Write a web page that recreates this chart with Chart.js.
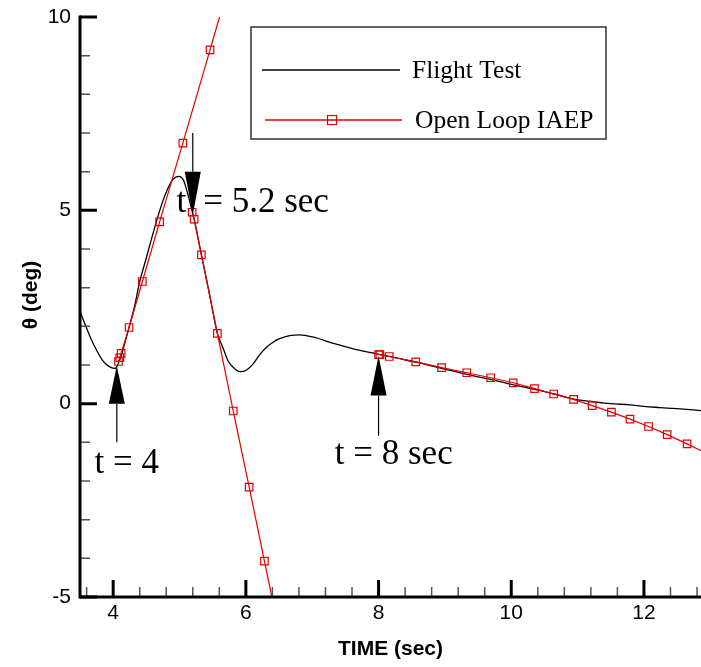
<!DOCTYPE html>
<html>
<head>
<meta charset="utf-8">
<title>Pitch angle response</title>
<script src="https://cdn.jsdelivr.net/npm/chart.js@4.4.1/dist/chart.umd.min.js"></script>
<style>
  html, body { margin: 0; padding: 0; background: #fff; }
  #chart { display: block; }
</style>
</head>
<body>
<canvas id="chart" width="701" height="667"></canvas>
<script>
// flight test record: time (sec) and pitch angle (deg)
const flightTime = [3.50, 3.60, 3.67, 3.75, 3.84, 3.93, 4.03, 4.08, 4.14, 4.24,
                    4.32, 4.40, 4.48, 4.56, 4.65, 4.74, 4.82, 4.90, 4.99, 5.06,
                    5.12, 5.18, 5.22, 5.33, 5.45, 5.57, 5.61, 5.66, 5.73, 5.81,
                    5.87, 5.94, 6.01, 6.11, 6.21, 6.31, 6.41, 6.51, 6.66, 6.81,
                    7.02, 7.32, 7.62, 7.97, 8.30, 8.60, 8.95, 9.30, 9.70, 10.00,
                    10.35, 10.65, 10.94, 11.24, 11.50, 11.79, 12.00, 12.24, 12.50, 12.86];
const flightTheta = [2.39, 1.95, 1.66, 1.38, 1.12, 0.97, 0.91, 1.05, 1.35, 1.98,
                     2.50, 3.16, 3.65, 4.15, 4.70, 5.20, 5.55, 5.80, 5.88, 5.78,
                     5.45, 5.05, 4.78, 3.85, 2.85, 1.82, 1.63, 1.42, 1.11, 0.94,
                     0.85, 0.83, 0.87, 1.03, 1.27, 1.46, 1.59, 1.68, 1.76, 1.78,
                     1.72, 1.56, 1.42, 1.29, 1.17, 1.06, 0.91, 0.77, 0.62, 0.50,
                     0.37, 0.25, 0.12, 0.05, 0.00, -0.03, -0.07, -0.10, -0.13, -0.18];

// open loop IAEP runs started at t = 4, 5.2 and 8 sec (null splits the runs)
const iaepTime = [4.08, 4.10, 4.12, 4.24, 4.44, 4.70, 5.05, 5.46, 5.67,
                  null,
                  5.19, 5.22, 5.33, 5.57, 5.81, 6.05, 6.28, 6.44,
                  null,
                  8.00, 8.02, 8.16, 8.56, 8.95, 9.33, 9.69, 10.03, 10.35, 10.64,
                  10.94, 11.22, 11.51, 11.79, 12.07, 12.35, 12.65, 12.95];
const iaepTheta = [1.09, 1.19, 1.30, 1.97, 3.16, 4.70, 6.74, 9.15, 10.40,
                   null,
                   4.95, 4.77, 3.85, 1.82, -0.19, -2.16, -4.07, -5.40,
                   null,
                   1.27, 1.27, 1.22, 1.08, 0.93, 0.80, 0.67, 0.54, 0.39, 0.25,
                   0.11, -0.05, -0.22, -0.40, -0.59, -0.80, -1.04, -1.29];

const xMajorTicks = [4, 6, 8, 10, 12];
const xMinorTicks = [3.6, 4.4, 4.8, 5.2, 5.6, 6.4, 6.8, 7.2, 7.6, 8.4, 8.8, 9.2, 9.6,
                     10.4, 10.8, 11.2, 11.6, 12.4, 12.8];
const yMajorTicks = [-5, 0, 5, 10];
const yMinorTicks = [-4, -3, -2, -1, 1, 2, 3, 4, 6, 7, 8, 9];

const sans = '"Liberation Sans", Arial, sans-serif';
const serif = '"Liberation Serif", "Times New Roman", serif';
const red = '#e00000';

// arrows marking the restart times of the IAEP runs (data units)
const markers = [
  { t: 4.055, tip: 0.98, base: 0.0, tail: -1.0 },
  { t: 5.2, tip: 4.88, base: 6.0, tail: 7.0 },
  { t: 8.0, tip: 1.24, base: 0.21, tail: -0.83 }
];
const notes = [
  { text: 't = 4', t: 3.72, v: -1.79 },
  { text: 't', t: 4.955, v: 4.96 },
  { text: '= 5.2 sec', t: 5.357, v: 4.96 },
  { text: 't = 8 sec', t: 7.34, v: -1.56 }
];

function toPoints(xs, ys) {
  return xs.map((x, i) => ({ x: x, y: ys[i] }));
}

const decor = {
  id: 'decor',
  afterDatasetsDraw(chart) {
    const { ctx, chartArea: a, scales: { x, y } } = chart;
    ctx.save();

    // inward ticks
    ctx.strokeStyle = '#555';
    ctx.lineWidth = 1.5;
    ctx.beginPath();
    xMinorTicks.forEach(v => {
      const px = x.getPixelForValue(v);
      ctx.moveTo(px, a.bottom); ctx.lineTo(px, a.bottom - 10);
    });
    yMinorTicks.forEach(v => {
      const py = y.getPixelForValue(v);
      ctx.moveTo(a.left, py); ctx.lineTo(a.left + 10, py);
    });
    ctx.stroke();

    ctx.strokeStyle = '#000';
    ctx.lineWidth = 3;
    ctx.beginPath();
    xMajorTicks.forEach(v => {
      const px = x.getPixelForValue(v);
      ctx.moveTo(px, a.bottom); ctx.lineTo(px, a.bottom - 17);
    });
    yMajorTicks.forEach(v => {
      const py = y.getPixelForValue(v);
      ctx.moveTo(a.left, py); ctx.lineTo(a.left + 17, py);
    });
    ctx.stroke();

    // axis lines
    ctx.beginPath();
    ctx.moveTo(a.left, a.top - 1.5);
    ctx.lineTo(a.left, a.bottom);
    ctx.lineTo(a.right, a.bottom);
    ctx.stroke();

    // annotation arrows
    ctx.fillStyle = '#000';
    markers.forEach(m => {
      const px = x.getPixelForValue(m.t);
      const yTip = y.getPixelForValue(m.tip);
      const yBase = y.getPixelForValue(m.base);
      const yTail = y.getPixelForValue(m.tail);
      ctx.lineWidth = 1.2;
      ctx.beginPath();
      ctx.moveTo(px, yTail); ctx.lineTo(px, yBase);
      ctx.stroke();
      ctx.beginPath();
      ctx.moveTo(px, yTip);
      ctx.lineTo(px - 8, yBase);
      ctx.lineTo(px + 8, yBase);
      ctx.closePath();
      ctx.fill();
    });

    ctx.font = '35px ' + serif;
    ctx.textAlign = 'left';
    ctx.textBaseline = 'alphabetic';
    notes.forEach(n => {
      ctx.fillText(n.text, x.getPixelForValue(n.t), y.getPixelForValue(n.v));
    });

    // legend box
    const lx = a.left + 171, ly = a.top + 10;
    ctx.fillStyle = '#fff';
    ctx.fillRect(lx, ly, 355, 112);
    ctx.strokeStyle = '#333';
    ctx.lineWidth = 1.5;
    ctx.strokeRect(lx, ly, 355, 112);

    ctx.strokeStyle = '#000';
    ctx.lineWidth = 1.3;
    ctx.beginPath();
    ctx.moveTo(lx + 11, ly + 43); ctx.lineTo(lx + 149, ly + 43);
    ctx.stroke();
    ctx.strokeStyle = red;
    ctx.beginPath();
    ctx.moveTo(lx + 14, ly + 93); ctx.lineTo(lx + 151, ly + 93);
    ctx.stroke();
    ctx.lineWidth = 1.2;
    ctx.strokeRect(lx + 76.5, ly + 88.5, 9, 9);

    ctx.fillStyle = '#000';
    ctx.font = '25.5px ' + serif;
    ctx.fillText('Flight Test', lx + 161, ly + 51);
    ctx.fillText('Open Loop IAEP', lx + 164, ly + 101);

    // y axis title
    ctx.translate(31, 295);
    ctx.rotate(-Math.PI / 2);
    ctx.font = 'bold 21px ' + sans;
    ctx.textAlign = 'center';
    ctx.textBaseline = 'middle';
    ctx.fillText('θ (deg)', 0, 0);

    ctx.restore();
  }
};

new Chart(document.getElementById('chart'), {
  type: 'line',
  data: {
    datasets: [
      {
        label: 'Open Loop IAEP',
        data: toPoints(iaepTime, iaepTheta),
        borderColor: red,
        borderWidth: 1.2,
        pointStyle: 'rect',
        pointRadius: 5.3,
        pointBorderWidth: 1.2,
        pointBorderColor: red,
        pointBackgroundColor: 'rgba(255,255,255,0)',
        spanGaps: false,
        tension: 0,
        clip: 0,
        order: 0
      },
      {
        label: 'Flight Test',
        data: toPoints(flightTime, flightTheta),
        borderColor: '#000',
        borderWidth: 1.3,
        pointRadius: 0,
        cubicInterpolationMode: 'monotone',
        clip: 0,
        order: 1
      }
    ]
  },
  options: {
    responsive: false,
    animation: false,
    devicePixelRatio: 1,
    layout: { autoPadding: false, padding: { top: 17, right: 0, left: 0, bottom: 0 } },
    plugins: {
      legend: { display: false },
      tooltip: { enabled: false }
    },
    scales: {
      x: {
        type: 'linear',
        min: 3.5,
        max: 12.86,
        afterBuildTicks: s => { s.ticks = xMajorTicks.map(v => ({ value: v })); },
        afterFit: s => { s.height = 70; s.paddingLeft = 0; s.paddingRight = 0; },
        grid: { display: false, drawTicks: false },
        border: { display: false },
        ticks: {
          color: '#000',
          padding: 4,
          maxRotation: 0,
          autoSkip: false,
          font: { family: sans, size: 21 }
        },
        title: {
          display: true,
          text: 'TIME (sec)',
          color: '#000',
          font: { family: sans, size: 21, weight: 'bold' },
          padding: { top: 0, bottom: 5 }
        }
      },
      y: {
        type: 'linear',
        min: -5,
        max: 10,
        afterBuildTicks: s => { s.ticks = yMajorTicks.map(v => ({ value: v })); },
        afterFit: s => { s.width = 80; s.paddingTop = 0; s.paddingBottom = 0; },
        grid: { display: false, drawTicks: false },
        border: { display: false },
        ticks: {
          color: '#000',
          padding: 9,
          font: { family: sans, size: 21 }
        }
      }
    }
  },
  plugins: [decor]
});
</script>
</body>
</html>
